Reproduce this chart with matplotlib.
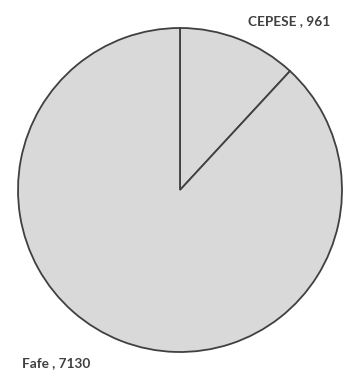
import matplotlib
matplotlib.use("Agg")
import matplotlib.pyplot as plt

categories = ["CEPESE", "Fafe"]
values = [961, 7130]

fig = plt.figure(figsize=(3.5, 3.73), dpi=100)
ax = fig.add_axes([18/350, 21/373, 324/350, 324/373])
ax.pie(values, startangle=90, counterclock=False, radius=1,
       colors=["#d9d9d9", "#d9d9d9"],
       wedgeprops=dict(edgecolor="#404040", linewidth=1.3))
ax.set_xlim(-1.0, 1.0)
ax.set_ylim(-1.0, 1.0)
ax.set_aspect("auto")
ax.axis("off")

fig.text(248/350, 1 - 21/373, f"{categories[0]} , {values[0]}", ha="left", va="center",
         fontsize=9.8, fontweight="bold", color="#404040", family="Lato")
fig.text(22/350, 1 - 363/373, f"{categories[1]} , {values[1]}", ha="left", va="center",
         fontsize=9.8, fontweight="bold", color="#404040", family="Lato")

fig.savefig("out.png", dpi=100, facecolor="white")
